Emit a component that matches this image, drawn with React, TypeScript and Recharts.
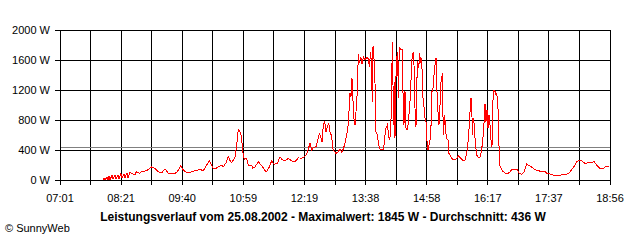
import { CartesianGrid, Line, LineChart, ReferenceLine, XAxis, YAxis } from "recharts";

// x labels as printed under every second grid line
const xLabels = ["07:01", "08:21", "09:40", "10:59", "12:19", "13:38", "14:58", "16:17", "17:37", "18:56"];
const yTicks = [0, 400, 800, 1200, 1600, 2000];
const average = 436;

// minutes since midnight
const minutes = [
  476.9, 478.2, 479.5, 482.1, 483.4, 484.7, 486, 488.6, 489.9, 492.5,
  493.8, 496.4, 497.7, 500.3, 501.6, 504.2, 505.5, 508.1, 509.4, 512,
  514.2, 518.5, 519.8, 524.1, 527.2, 533.7, 540.2, 544.5, 548.8, 553.2,
  557.5, 561.8, 566.2, 570.5, 573.5, 577.9, 581.3, 584.8, 590.9, 596.5,
  603, 607.3, 611.7, 615.1, 618.2, 620.3, 622.5, 626.8, 631.2, 633.3,
  636.8, 639.8, 642, 644.2, 646.3, 648.5, 649.8, 651.5, 652.8, 655,
  656.3, 657.6, 658.5, 659.3, 660.6, 662.8, 664.5, 665.8, 670.2, 671.5,
  674.5, 678.8, 681, 684.5, 687.5, 689.7, 693.1, 696.2, 699.2, 703.5,
  707, 709.2, 713.5, 717.8, 722.2, 726.5, 730.8, 735.2, 738.6, 741.7,
  743.8, 746, 748.2, 750.3, 753.8, 756.8, 758.1, 759.9, 761.6, 763.3,
  765.1, 766.8, 768.5, 770.3, 772, 774.2, 775.5, 777.6, 779.8, 782.8,
  785, 787.2, 789.3, 791.5, 793.7, 795.8, 798, 799.3, 800.6, 801.5,
  803.2, 804.5, 805.8, 807.5, 808.8, 810.1, 811.9, 813.6, 815.3, 817.5,
  819.7, 821.8, 823.1, 824.9, 826.2, 826.9, 827.5, 828.3, 829.2, 830.5,
  831.8, 833.5, 835.3, 837, 839.2, 841.3, 842.2, 843.5, 844.8, 846.5,
  847.8, 849.1, 850.9, 852.2, 853, 853.9, 854.8, 855.6, 856.5, 857.4,
  858.7, 860, 860.8, 861.7, 862.1, 863.9, 865.6, 866.5, 867.3, 868.6,
  869.5, 870.8, 872.1, 873.4, 874.3, 876, 876.9, 877.7, 879, 880.3,
  881.2, 882.5, 883.8, 884.7, 886, 887.3, 888.6, 889.9, 891.2, 892.5,
  893.3, 894.6, 895.9, 896.8, 897.7, 898.5, 899.4, 900.7, 902, 903.7,
  904.6, 905.9, 907.2, 908.5, 909.8, 911.1, 912.4, 913.7, 915, 916.3,
  918, 919.3, 921.1, 922.4, 923.7, 925.4, 926.7, 928.9, 931.5, 934.5,
  936.7, 938.8, 941.9, 944.5, 947.5, 949.7, 951.8, 953.6, 954.9, 956.2,
  957, 958.3, 959.6, 960.9, 962.7, 964.8, 967, 968.7, 970.5, 972.2,
  973.5, 974.8, 976.1, 977.4, 978.7, 980, 981.3, 982.6, 983.5, 984.3,
  985.2, 986.5, 987.8, 988.7, 990, 991.3, 992.1, 993.9, 996.5, 999.5,
  1003.8, 1006, 1008.2, 1012.5, 1015.5, 1018.1, 1021.2, 1024.2, 1027.7, 1031.1,
  1035.5, 1038.5, 1042.8, 1047.2, 1051.5, 1053.7, 1058, 1062.3, 1071, 1079.7,
  1083.1, 1086.2, 1089.2, 1092.7, 1096.1, 1099.2, 1103.5, 1107.8, 1112.2, 1115.2,
  1118.7, 1123, 1127.3, 1130.8, 1135.1,
];

// power in W, same order as minutes
const watts = [
  0, 25, 0, 40, 0, 55, 5, 60, 10, 70,
  15, 65, 20, 85, 25, 75, 30, 95, 30, 100,
  90, 70, 110, 90, 110, 125, 175, 155, 110, 95,
  150, 90, 90, 90, 110, 185, 135, 105, 105, 125,
  140, 125, 200, 255, 200, 155, 145, 175, 200, 175,
  230, 310, 260, 230, 265, 310, 400, 535, 675, 645,
  600, 490, 375, 335, 275, 290, 255, 200, 200, 155,
  175, 245, 215, 175, 125, 110, 175, 255, 210, 220,
  310, 275, 255, 290, 255, 245, 295, 290, 310, 340,
  415, 490, 400, 430, 445, 555, 620, 580, 510, 735,
  785, 645, 710, 755, 645, 580, 420, 385, 355, 380,
  415, 365, 415, 490, 600, 755, 1155, 1110, 1355, 1135,
  820, 735, 910, 1180, 1675, 1555, 1645, 1545, 1640, 1600,
  1635, 1620, 1510, 1710, 1445, 1045, 1755, 1790, 1620, 1290,
  645, 600, 465, 415, 400, 410, 465, 600, 690, 735,
  645, 535, 600, 1265, 1845, 1265, 735, 1310, 555, 1265,
  1620, 1710, 1090, 1580, 1765, 1745, 1745, 1645, 735, 780,
  1180, 690, 665, 735, 820, 1045, 1135, 1510, 1665, 1710,
  1535, 955, 710, 1265, 1580, 1490, 1690, 1555, 1620, 1180,
  1020, 955, 780, 780, 600, 445, 400, 465, 535, 780,
  1180, 1220, 1400, 1535, 1630, 1180, 910, 735, 1000, 1300,
  1420, 600, 865, 645, 555, 535, 355, 310, 275, 265,
  290, 325, 290, 265, 265, 355, 535, 820, 1090, 1090,
  600, 820, 735, 490, 335, 300, 300, 380, 510, 755,
  1010, 780, 935, 690, 865, 735, 535, 445, 1000, 1135,
  1200, 1180, 1135, 1155, 1045, 735, 200, 165, 120, 90,
  90, 110, 135, 145, 140, 90, 75, 105, 215, 190,
  165, 135, 125, 110, 120, 90, 80, 65, 65, 75,
  95, 140, 180, 245, 265, 255, 220, 230, 230, 245,
  200, 155, 155, 180, 185,
];

const toMin = (s: string) => {
  const [h, m] = s.split(":").map(Number);
  return h * 60 + m;
};

const start = toMin(xLabels[0]);
const end = toMin(xLabels[xLabels.length - 1]);
const step = (end - start) / ((xLabels.length - 1) * 2);
const xTicks = Array.from({ length: (xLabels.length - 1) * 2 + 1 }, (_, i) => start + i * step);

const data = minutes.map((t, i) => ({ t, w: watts[i] }));

const font = "'Liberation Sans', Arial, sans-serif";

export default function App() {
  return (
    <div style={{ position: "absolute", left: 0, top: 0, width: 640, height: 240, background: "#fff", fontFamily: font }}>
      <style>{`.recharts-cartesian-grid line, .recharts-cartesian-axis line, .recharts-reference-line line, .recharts-line path { shape-rendering: crispEdges; }`}</style>
      <LineChart width={640} height={240} data={data} margin={{ top: 30, right: 30, bottom: 0, left: 0 }}>
        <CartesianGrid stroke="#000" strokeWidth={1} />
        <XAxis
          dataKey="t"
          type="number"
          domain={[start, end]}
          ticks={xTicks}
          interval={0}
          height={60}
          tickSize={5}
          tickMargin={9}
          axisLine={{ stroke: "#000" }}
          tickLine={{ stroke: "#000" }}
          tick={{ fill: "#000", fontSize: 11, fontFamily: font }}
          tickFormatter={(_v: number, i: number) => (i % 2 === 0 ? xLabels[i / 2] : "")}
        />
        <YAxis
          domain={[0, 2000]}
          ticks={yTicks}
          interval={0}
          width={60}
          tickSize={5}
          tickMargin={5}
          axisLine={{ stroke: "#000" }}
          tickLine={{ stroke: "#000" }}
          tick={{ fill: "#000", fontSize: 11, fontFamily: font }}
          tickFormatter={(v: number) => `${v} W`}
        />
        <ReferenceLine y={average} stroke="#808080" strokeWidth={1} />
        <Line type="linear" dataKey="w" stroke="#ff0000" strokeWidth={1} dot={false} isAnimationActive={false} />
      </LineChart>
      <div
        style={{
          position: "absolute",
          left: 323,
          top: 210,
          transform: "translateX(-50%)",
          whiteSpace: "nowrap",
          fontSize: 12,
          lineHeight: "14px",
          fontWeight: "bold",
          color: "#000",
        }}
      >
        Leistungsverlauf vom 25.08.2002 - Maximalwert: 1845 W - Durchschnitt: 436 W
      </div>
      <div style={{ position: "absolute", left: 5, top: 222, fontSize: 11, lineHeight: "13px", color: "#000", whiteSpace: "nowrap" }}>
        © SunnyWeb
      </div>
    </div>
  );
}
